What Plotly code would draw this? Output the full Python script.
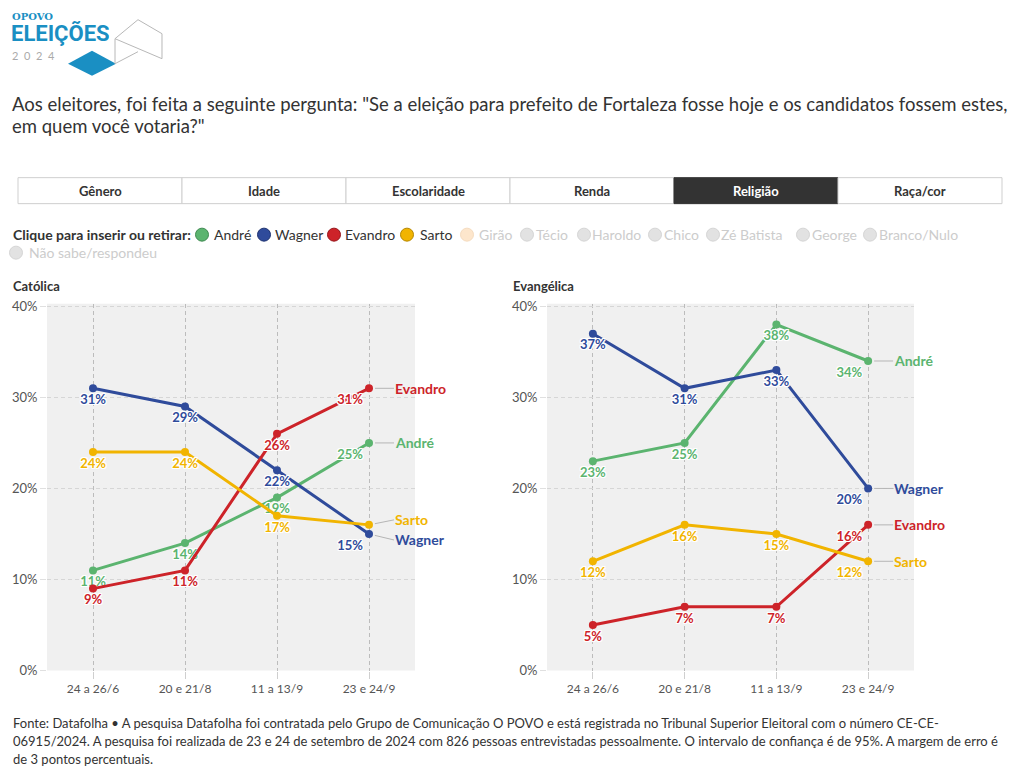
import plotly.graph_objects as go

# ---------------- data ----------------
dates = ["24 a 26/6", "20 e 21/8", "11 a 13/9", "23 e 24/9"]
candidates = ["André", "Wagner", "Evandro", "Sarto"]

andre_cat = [11, 14, 19, 25]
wagner_cat = [31, 29, 22, 15]
evandro_cat = [9, 11, 26, 31]
sarto_cat = [24, 24, 17, 16]

andre_ev = [23, 25, 38, 34]
wagner_ev = [37, 31, 33, 20]
evandro_ev = [5, 7, 7, 16]
sarto_ev = [12, 16, 15, 12]

panel_titles = ["Católica", "Evangélica"]
y_ticks = [0, 10, 20, 30, 40]
y_ticklabels = ["0%", "10%", "20%", "30%", "40%"]

tabs = ["Gênero", "Idade", "Escolaridade", "Renda", "Religião", "Raça/cor"]
selected_tab = "Religião"

legend_names = ["André", "Wagner", "Evandro", "Sarto", "Girão", "Técio", "Haroldo",
                "Chico", "Zé Batista", "George", "Branco/Nulo", "Não sabe/respondeu"]

colors = {"André": "#5bb46f", "Wagner": "#2f4b9b", "Evandro": "#cd2329", "Sarto": "#f1b400"}
borders = {"André": "#3f8a51", "Wagner": "#1e3370", "Evandro": "#96161b", "Sarto": "#b68700"}

# ---------------- geometry helpers ----------------
W, H = 1020, 768
# measured vertical mapping of the capture: shown_y = V_OFF + V_SCALE * page_y
V_OFF, V_SCALE = 5.3, 0.982


def X(px):
    return px / W


def Y(py):
    return 1 - ((py - V_OFF) / V_SCALE) / H


FONT = "Source Sans Pro, Lato, sans-serif"
TXT = "#333333"

fig = go.Figure()

panels = [
    dict(xa="x", ya="y", data=[andre_cat, wagner_cat, evandro_cat, sarto_cat],
         offsets={"André": 0, "Wagner": 6, "Evandro": 0, "Sarto": -5},
         hidden={("Sarto", 3)}),
    dict(xa="x2", ya="y2", data=[andre_ev, wagner_ev, evandro_ev, sarto_ev],
         offsets={"André": 0, "Wagner": 0, "Evandro": 0, "Sarto": 0},
         hidden=set()),
]

halo = ("-1px -1px 0 #fff, 1px -1px 0 #fff, -1px 1px 0 #fff, 1px 1px 0 #fff, "
        "0 1px 0 #fff, 0 -1px 0 #fff, 1px 0 0 #fff, -1px 0 0 #fff")

for p in panels:
    for name, vals in zip(candidates, p["data"]):
        labels = ["" if (name, i) in p["hidden"] else f"{v}%" for i, v in enumerate(vals)]
        fig.add_trace(go.Scatter(
            x=dates, y=vals, xaxis=p["xa"], yaxis=p["ya"],
            mode="lines+markers+text",
            line=dict(color=colors[name], width=3),
            marker=dict(color=colors[name], size=8),
            text=labels,
            textposition=["bottom center", "bottom center", "bottom center", "bottom left"],
            textfont=dict(family=FONT, size=13, color=colors[name], weight="bold", shadow=halo),
            showlegend=False, hoverinfo="skip", cliponaxis=False,
        ))
        fig.add_annotation(
            x=dates[-1], y=vals[-1], xref=p["xa"], yref=p["ya"],
            text=f"<b>{name}</b>", showarrow=True, arrowhead=0, arrowwidth=1,
            arrowcolor="#b5b5b5", ax=25, ay=p["offsets"][name], xanchor="left",
            yanchor="middle", standoff=6, borderpad=0,
            font=dict(family=FONT, size=14, color=colors[name]),
        )

axis_common_x = dict(
    type="category", range=[-0.5, 3.5], showgrid=True, gridcolor="#bcbcbc",
    griddash="4px,3px", gridwidth=1, ticks="outside", ticklen=7, tickcolor="#cfcfcf",
    tickfont=dict(family=FONT, size=12, color="#555"), showline=False, zeroline=False,
    fixedrange=True,
)
axis_common_y = dict(
    range=[0, 40.3], tickvals=y_ticks, ticktext=y_ticklabels, showgrid=True,
    gridcolor="#d6d6d6", griddash="4px,3px", gridwidth=1, ticks="outside", ticklen=6,
    tickcolor="#e0e0e0", tickfont=dict(family=FONT, size=13, color="#555"),
    zeroline=False, showline=False, domain=[Y(670), Y(303)], fixedrange=True,
)

fig.update_layout(
    xaxis=dict(axis_common_x, domain=[X(47), X(415)], anchor="y"),
    yaxis=dict(axis_common_y, anchor="x"),
    xaxis2=dict(axis_common_x, domain=[X(547), X(914)], anchor="y2"),
    yaxis2=dict(axis_common_y, anchor="x2"),
)

shapes = []
annotations = []

# plot backgrounds
for x0, x1 in [(47, 415), (547, 914)]:
    shapes.append(dict(type="rect", xref="paper", yref="paper", x0=X(x0), x1=X(x1),
                       y0=Y(670), y1=Y(303), fillcolor="#f0f0f0", line=dict(width=0),
                       layer="below"))

# panel titles
for t, px in zip(panel_titles, [11, 511]):
    annotations.append(dict(x=X(px), y=Y(285), xref="paper", yref="paper", text=f"<b>{t}</b>",
                            showarrow=False, xanchor="left", yanchor="middle",
                            font=dict(family=FONT, size=13, color=TXT)))

# title
title_lines = ['Aos eleitores, foi feita a seguinte pergunta: "Se a eleição para prefeito de Fortaleza fosse hoje e os candidatos fossem estes,',
               'em quem você votaria?"']
for line, py in zip(title_lines, [103, 125]):
    annotations.append(dict(x=X(10), y=Y(py), xref="paper", yref="paper", text=line,
                            showarrow=False, xanchor="left", yanchor="middle",
                            font=dict(family=FONT, size=18.5, color=TXT)))

# footer
footer_lines = ["Fonte: Datafolha • A pesquisa Datafolha foi contratada pelo Grupo de Comunicação O POVO e está registrada no Tribunal Superior Eleitoral com o número CE-CE-",
                "06915/2024. A pesquisa foi realizada de 23 e 24 de setembro de 2024 com 826 pessoas entrevistadas pessoalmente. O intervalo de confiança é de 95%. A margem de erro é",
                "de 3 pontos percentuais."]
for line, py in zip(footer_lines, [722, 740, 758]):
    annotations.append(dict(x=X(11), y=Y(py), xref="paper", yref="paper", text=line,
                            showarrow=False, xanchor="left", yanchor="middle",
                            font=dict(family=FONT, size=13, color=TXT)))

# tabs
tab_x = [18, 182, 346, 510, 674, 838, 1002]
for i, t in enumerate(tabs):
    sel = t == selected_tab
    shapes.append(dict(type="rect", xref="paper", yref="paper", x0=X(tab_x[i]), x1=X(tab_x[i + 1]),
                       y0=Y(203), y1=Y(177), fillcolor="#333333" if sel else "#ffffff",
                       line=dict(color="#333333" if sel else "#cfcfcf", width=1)))
    annotations.append(dict(x=X((tab_x[i] + tab_x[i + 1]) / 2), y=Y(190), xref="paper", yref="paper",
                            text=f"<b>{t}</b>", showarrow=False, xanchor="center", yanchor="middle",
                            font=dict(family=FONT, size=13, color="#ffffff" if sel else TXT)))

# legend row
annotations.append(dict(x=X(11), y=Y(234), xref="paper", yref="paper",
                        text="<b>Clique para inserir ou retirar:</b>", showarrow=False,
                        xanchor="left", yanchor="middle", font=dict(family=FONT, size=14, color=TXT)))
leg_pos = [(202, 212, 234), (264, 273, 234), (334, 343, 234), (407, 418, 234), (467, 477, 234),
           (527, 534, 234), (584, 590, 234), (655, 662, 234), (713, 719, 234), (803, 810, 234),
           (870, 877, 234), (16, 27, 252)]
for name, (cx, tx, cy) in zip(legend_names, leg_pos):
    if name in colors:
        fc, lc, tc = colors[name], borders[name], TXT
    elif name == "Girão":
        fc, lc, tc = "#fde6cc", "#f5dcc0", "#cccccc"
    else:
        fc, lc, tc = "#e2e2e2", "#d5d5d5", "#cccccc"
    r = 6.5
    shapes.append(dict(type="circle", xref="paper", yref="paper", x0=X(cx - r), x1=X(cx + r),
                       y0=Y(cy + r), y1=Y(cy - r), fillcolor=fc, line=dict(color=lc, width=1)))
    annotations.append(dict(x=X(tx), y=Y(cy), xref="paper", yref="paper", text=name,
                            showarrow=False, xanchor="left", yanchor="middle",
                            font=dict(family=FONT, size=14, color=tc)))

# logo
BLUE = "#1a8fc3"


def path(points, close=True):
    s = "M " + " L ".join(f"{X(a):.5f},{Y(b):.5f}" for a, b in points)
    return s + (" Z" if close else "")


shapes.append(dict(type="path", xref="paper", yref="paper",
                   path=path([(68, 63), (92, 50), (116, 63), (92, 75)]),
                   fillcolor=BLUE, line=dict(width=0)))
for pts in [[(115, 38), (138, 19), (162, 33), (162, 58)],
            [(115, 38), (115, 63)],
            [(115, 38), (162, 58)],
            [(115, 63), (138, 51)]]:
    shapes.append(dict(type="path", xref="paper", yref="paper", path=path(pts, close=False),
                       line=dict(color="#b8b8b8", width=1)))
annotations.append(dict(x=X(10), y=Y(16), xref="paper", yref="paper", text="<b>OPOVO</b>",
                        showarrow=False, xanchor="left", yanchor="middle", height=11,
                        font=dict(family="DejaVu Serif", size=10, color=BLUE)))
annotations.append(dict(x=X(9), y=Y(33), xref="paper", yref="paper", text="<b>ELEIÇÕES</b>",
                        showarrow=False, xanchor="left", yanchor="middle", height=25,
                        font=dict(family="Liberation Sans Narrow, Roboto", size=22, color=BLUE)))
annotations.append(dict(x=X(10), y=Y(55), xref="paper", yref="paper", text="2  0  2  4",
                        showarrow=False, xanchor="left", yanchor="middle", height=11,
                        font=dict(family="Lato", size=11, color="#aaaaaa")))

fig.update_layout(
    width=W, height=H, margin=dict(l=0, r=0, t=0, b=0),
    paper_bgcolor="#ffffff", plot_bgcolor="rgba(0,0,0,0)",
    shapes=shapes, annotations=list(fig.layout.annotations) + annotations,
    font=dict(family=FONT, color=TXT), showlegend=False,
)

fig.write_html(
    "out.html",
    config={"displayModeBar": False},
    post_script=(
        "var s=document.createElement('style');"
        "s.textContent='html,body{margin:0!important;padding:0!important;overflow:hidden!important;"
        "height:768px!important;} body>div{margin:0;padding:0;height:768px;overflow:hidden;}';"
        "document.head.appendChild(s);"
    ),
)
